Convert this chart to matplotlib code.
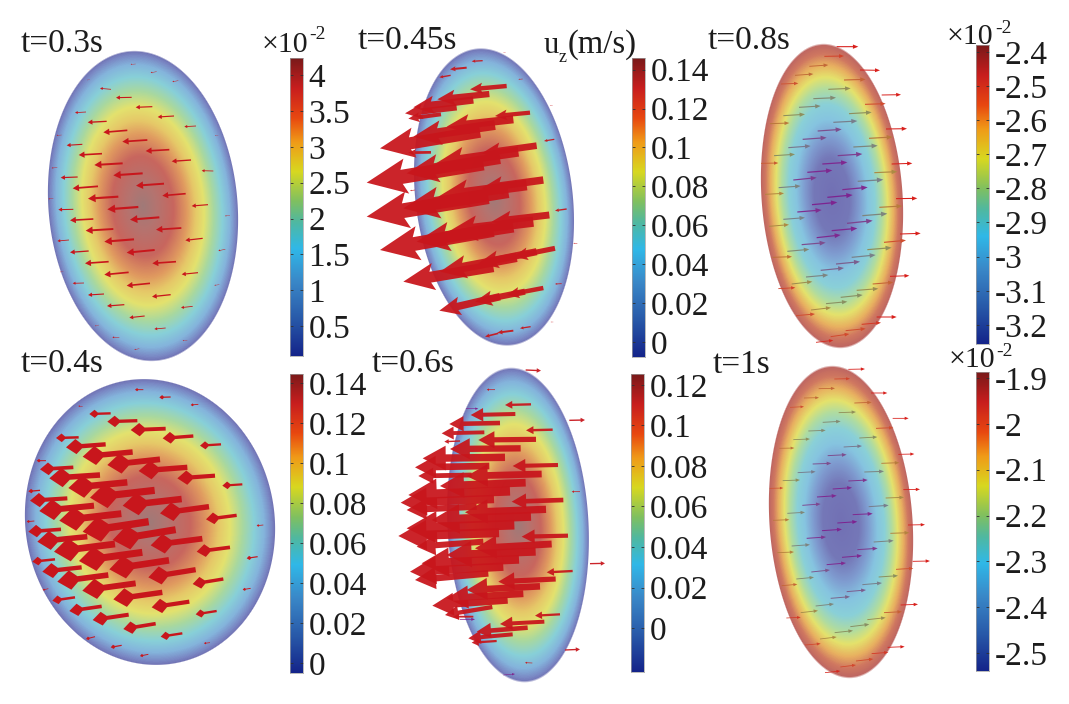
import numpy as np
import matplotlib
matplotlib.use('Agg')
import matplotlib.pyplot as plt
from matplotlib.colors import LinearSegmentedColormap

plt.rcParams['font.family'] = ['Liberation Serif', 'DejaVu Serif']

W, H = 1069, 704
TEXT = '#1c1c1c'
RED = '#c8161c'

#colour bar scale, navy up to dark red
bar_stops = [(0, '#14248a'), (.12, '#2858a8'), (.25, '#3a88c8'), (.36, '#30b8e8'),
             (.45, '#50b8a0'), (.52, '#80c060'), (.62, '#d8d820'), (.72, '#f09a18'),
             (.80, '#e84810'), (.90, '#c81e1e'), (1, '#7a1a1a')]
#surface colours against normalised radius, hot middle and cold middle
hot_stops = [(0, '#a07a78'), (.14, '#b47470'), (.32, '#c8665e'), (.46, '#e09a60'),
             (.55, '#e6c868'), (.64, '#e3e26e'), (.74, '#a8d8a0'), (.83, '#88d0d8'),
             (.91, '#84b4dc'), (.97, '#7a88c4'), (1, '#7070b2')]
cold_stops = [(0, '#7270b4'), (.25, '#7578b8'), (.38, '#7f9cd0'), (.5, '#86c4e0'),
              (.6, '#8ad0d8'), (.7, '#b0dca0'), (.78, '#e4e26c'), (.86, '#e8b060'),
              (.93, '#d07860'), (1, '#bc6462')]
#arrow colour when the arrow sits behind the cold surface
arrow_stops = [(0, '#7c2090'), (.35, '#802c90'), (.55, '#78808c'), (.7, '#8a9060'),
               (.8, '#b08a40'), (.9, '#d05030'), (1, '#d8201c')]

bar_cmap = LinearSegmentedColormap.from_list('bar', bar_stops)
hot_cmap = LinearSegmentedColormap.from_list('hot_surface', hot_stops)
cold_cmap = LinearSegmentedColormap.from_list('cold_surface', cold_stops)
arrow_cmap = LinearSegmentedColormap.from_list('arrow', arrow_stops)

#arrows are (x, y, x, y) on a grid three times finer than pixels, from each block corner
arrows_03 = [
    (392,193,407,192), (452,218,470,215), (517,245,535,242), (262,240,270,239), (300,265,333,268),
    (348,293,395,292), (407,322,457,320), (473,351,522,348), (553,380,588,378), (225,338,258,336),
    (263,367,320,364), (310,397,382,391), (367,425,442,420), (437,453,508,449), (515,484,573,480),
    (605,512,640,513), (170,406,185,405), (200,436,247,433), (236,465,306,461), (283,495,368,490),
    (340,526,428,520), (408,557,492,551), (487,587,557,581), (575,618,624,614), (155,504,172,503),
    (182,533,233,531), (218,565,294,559), (264,596,355,590), (322,628,415,621), (390,659,478,652),
    (468,689,544,684), (556,721,608,715), (645,407,655,406), (145,597,160,595), (175,629,220,628),
    (210,661,280,657), (257,692,340,687), (313,725,402,718), (380,758,464,750), (457,790,528,785),
    (545,823,594,818), (675,648,690,646), (172,723,207,720), (210,757,266,753), (255,790,326,785),
    (313,824,386,817), (380,857,450,850), (456,890,512,884), (543,923,578,919), (655,752,676,748),
    (180,816,190,815), (218,850,252,849), (264,885,312,882), (321,918,373,914), (388,953,434,948),
    (463,987,497,984), (643,856,658,854), (285,978,297,975), (337,1012,358,1012), (403,1049,418,1046),
    (548,1022,562,1021),
]
arrows_045 = [
    (430,158,437,158), (475,238,488,237), (570,317,578,316), (552,423,583,418), (585,632,620,627),
    (640,730,652,730), (585,852,605,851), (572,966,580,966), (150,572,165,570),
    (335,184,368,182), (270,208,320,203), (238,232,272,226),
    (145,356,243,343), (135,340,290,322), (160,322,340,300), (232,298,388,282), (330,268,440,258),
    (145,458,213,457), (60,445,360,395), (160,410,405,375), (260,380,460,358), (405,348,510,338),
    (20,548,370,490), (140,520,420,475), (228,490,475,455), (365,460,530,437),
    (20,650,385,590), (130,625,445,575), (235,590,500,555), (365,565,550,540),
    (60,750,400,690), (170,725,460,680), (265,695,520,665), (395,665,568,645),
    (130,845,400,800), (240,815,470,772), (355,790,530,755), (460,770,585,745),
    (238,932,420,890), (345,905,495,875), (440,885,550,864),
    (375,1010,415,1000), (412,998,460,992), (480,985,512,980),
]
arrows_08 = [
    (410,140,475,140), (373,169,432,168), (328,199,385,195), (285,226,340,222), (243,252,295,250),
    (480,210,540,211), (432,240,497,238), (385,268,452,265), (340,296,408,293), (297,322,362,318),
    (250,347,315,343), (210,371,268,369), (545,285,603,284), (495,313,557,311), (447,341,515,337),
    (400,367,472,363), (353,393,425,388), (308,418,380,413), (265,443,332,438), (222,467,285,463),
    (183,490,235,489), (558,387,621,386), (507,415,578,411), (460,441,533,437), (413,467,487,462),
    (367,492,442,487), (322,517,397,511), (280,540,350,533), (236,563,302,558), (195,583,252,580),
    (575,492,637,490), (523,518,592,515), (473,544,550,539), (427,569,503,562), (382,592,458,585),
    (336,614,412,607), (292,636,365,630), (250,658,315,653), (207,679,267,674), (588,596,652,595),
    (538,622,607,618), (487,647,562,641), (441,670,518,662), (395,692,472,685), (350,713,422,705),
    (305,734,377,728), (262,754,328,748), (218,772,276,770), (600,702,662,700), (552,727,618,721),
    (502,749,575,743), (455,772,527,765), (408,792,480,785), (362,811,432,804), (318,831,385,825),
    (275,852,337,845), (235,866,286,863), (570,829,628,827), (518,852,580,847), (470,871,535,866),
    (422,892,488,885), (378,911,442,905), (333,930,393,923), (288,947,345,942), (530,951,590,951),
    (485,973,543,968), (437,992,497,986), (392,1010,448,1002), (348,1027,400,1021),
]
arrows_04 = [
    (405,119,430,119), (478,142,512,141), (572,165,595,163), (235,168,248,170), (110,332,138,332),
    (85,424,120,421), (80,515,103,513), (770,527,790,525), (740,625,773,620), (128,720,145,716),
    (728,719,752,715), (258,867,285,860), (332,892,365,886), (420,918,445,913), (612,880,630,878),
    (600,287,663,283), (488,265,580,258), (392,240,497,236), (322,215,412,212), (268,192,332,190),
    (532,385,645,377), (416,363,562,352), (322,345,480,328), (248,320,398,306), (198,292,317,283),
    (168,264,236,262), (667,407,727,403), (480,490,627,470), (368,467,545,447), (270,443,464,421),
    (205,414,382,397), (148,385,300,375), (120,358,220,352), (618,508,710,496), (452,586,607,566),
    (338,570,527,539), (248,545,446,515), (178,512,364,491), (118,483,282,467), (90,452,202,445),
    (590,605,690,592), (445,682,587,659), (328,658,507,631), (237,633,427,607), (162,605,345,582),
    (112,575,262,560), (85,545,183,538), (578,702,670,687), (455,772,568,755), (340,748,487,727),
    (247,722,407,700), (172,695,325,675), (127,665,245,652), (97,635,165,628), (587,793,650,783),
    (482,860,547,850), (370,837,467,821), (278,810,386,794), (208,783,305,769), (157,752,225,742),
]
arrows_06 = [
    (543,62,497,60), (675,210,628,211), (735,640,690,641), (660,898,615,900), (380,119,405,119),
    (635,425,660,425), (495,938,517,939), (435,165,513,163), (332,195,466,192), (268,222,420,219),
    (245,250,373,247), (498,241,578,239), (355,270,528,268), (253,275,300,273), (270,297,482,295),
    (188,325,435,322), (165,352,388,348), (458,348,594,345), (175,378,335,375), (320,378,545,372),
    (240,408,497,398), (145,435,450,423), (122,458,402,447), (455,455,610,450), (140,480,350,470),
    (315,487,558,478), (215,510,513,499), (140,535,463,524), (115,558,417,548), (485,560,624,557),
    (170,590,370,575), (345,595,575,582), (260,615,527,605), (185,640,477,628), (150,665,430,650),
    (165,690,385,670), (560,667,638,663), (415,695,587,687), (320,720,540,709), (260,745,490,731),
    (217,767,443,751), (255,795,397,771), (280,800,340,800), (525,797,600,793), (420,822,553,815),
    (350,845,503,833), (325,865,458,853), (335,878,410,873),
]
arrows_06_purple = [(318,176,355,176), (430,975,465,972), (300,808,345,808)]
arrows_1 = [
    (445,58,495,57), (403,87,450,86), (356,116,405,115), (312,144,357,143), (270,172,312,170),
    (513,129,562,129), (463,159,515,157), (416,188,468,186), (368,217,422,214), (325,243,377,241),
    (280,269,330,267), (238,295,283,294), (578,205,626,205), (528,235,580,233), (478,264,532,261),
    (431,291,486,288), (383,317,440,314), (338,342,394,340), (293,368,347,365), (248,392,300,390),
    (209,415,250,414), (595,313,643,312), (544,340,598,338), (493,366,552,364), (445,393,503,390),
    (398,417,456,413), (351,441,410,437), (307,466,362,462), (262,490,315,487), (219,511,268,509),
    (610,419,660,418), (557,444,612,442), (506,470,566,466), (458,494,518,491), (412,519,472,515),
    (366,542,426,538), (320,565,378,561), (275,588,330,584), (232,608,282,606), (624,525,675,524),
    (571,550,628,548), (521,576,581,572), (472,599,533,595), (426,622,486,617), (380,644,438,639),
    (334,666,390,660), (289,687,342,682), (245,707,292,703), (638,634,690,633), (588,658,640,655),
    (536,681,594,677), (487,704,546,699), (440,725,498,720), (392,745,450,740), (347,768,402,762),
    (302,788,354,782), (259,804,302,802), (602,765,654,763), (552,788,606,785), (502,809,557,803),
    (451,830,508,823), (404,848,459,842), (360,867,410,861), (315,885,362,881), (563,892,614,890),
    (515,911,565,907), (468,933,520,927), (421,951,468,945), (375,968,421,963),
]

ticks_03 = [4, 3.5, 3, 2.5, 2, 1.5, 1, 0.5]
labels_03 = ['4', '3.5', '3', '2.5', '2', '1.5', '1', '0.5']
ticks_045 = [.14, .12, .1, .08, .06, .04, .02, 0]
labels_045 = ['0.14', '0.12', '0.1', '0.08', '0.06', '0.04', '0.02', '0']
ticks_08 = [-2.4, -2.5, -2.6, -2.7, -2.8, -2.9, -3, -3.1, -3.2]
labels_08 = ['-2.4', '-2.5', '-2.6', '-2.7', '-2.8', '-2.9', '-3', '-3.1', '-3.2']
ticks_06 = [.12, .1, .08, .06, .04, .02, 0]
labels_06 = ['0.12', '0.1', '0.08', '0.06', '0.04', '0.02', '0']
ticks_1 = [-1.9, -2, -2.1, -2.2, -2.3, -2.4, -2.5]
labels_1 = ['-1.9', '-2', '-2.1', '-2.2', '-2.3', '-2.4', '-2.5']


fig = plt.figure(figsize=(W / 100, H / 100), dpi=100)
ax = fig.add_axes([0, 0, 1, 1])


#draws one tilted ellipse with its colour field
def drawSurface(cx, cy, a, b, tilt, cmap):
    x = np.arange(cx - b - 4, cx + b + 4)
    y = np.arange(cy - b - 4, cy + b + 4)
    gx, gy = np.meshgrid(x + .5, y + .5)
    r = radius(gx, gy, cx, cy, a, b, tilt)
    #soft edge about one pixel wide
    alpha = np.clip((1 - r) * a, 0, 1)
    ax.imshow(np.clip(r, 0, 1), cmap=cmap, vmin=0, vmax=1, alpha=alpha, aspect='auto',
              extent=(x[0], x[-1] + 1, y[-1] + 1, y[0]), interpolation='nearest', zorder=1)


#normalised elliptical radius, top of the ellipse leans left by tilt degrees
def radius(px, py, cx, cy, a, b, tilt):
    t = np.radians(tilt)
    dx, dy = px - cx, py - cy
    across = dx * np.cos(t) - dy * np.sin(t)
    along = dx * np.sin(t) + dy * np.cos(t)
    return np.sqrt((across / a) ** 2 + (along / b) ** 2)


#draws arrows from the list, head and shaft sizes scale with the length
def drawArrows(rows, ox, oy, shaft, head_w, head_l, overhang=0, shape=None, color=RED, alpha=1.0, tip_first=True):
    for x0, y0, x1, y1 in rows:
        x0, y0, x1, y1 = ox + x0 / 3, oy + y0 / 3, ox + x1 / 3, oy + y1 / 3
        if tip_first:
            x0, y0, x1, y1 = x1, y1, x0, y0
        length = np.hypot(x1 - x0, y1 - y0)
        c = color
        if shape is not None:
            c = arrow_cmap(min(radius((x0 + x1) / 2, (y0 + y1) / 2, *shape), 1.0))
        ax.arrow(x0, y0, x1 - x0, y1 - y0, width=shaft * length, head_width=head_w * length,
                 head_length=head_l * length, length_includes_head=True, overhang=overhang,
                 facecolor=c, edgecolor='none', alpha=alpha, zorder=2)


#draws a colour bar with its own value axis, box is left, top, right, bottom in pixels
def drawBar(box, vmin, vmax, ticks, labels):
    left, top, right, bottom = box
    cax = fig.add_axes([left / W, 1 - bottom / H, (right - left) / W, (bottom - top) / H])
    grad = np.linspace(1, 0, 256).reshape(-1, 1)
    cax.imshow(grad, cmap=bar_cmap, aspect='auto', extent=(0, 1, vmin, vmax))
    cax.set_xticks([])
    cax.set_yticks(ticks)
    cax.set_yticklabels(labels, fontsize=24, color=TEXT)
    cax.yaxis.tick_right()
    cax.tick_params(axis='y', direction='in', length=2.5, width=.6, color='#303030',
                    pad=4, left=True, right=True)
    for s in cax.spines.values():
        s.set_linewidth(.5)
        s.set_color('#a0a0a0')
    return cax


def label(x, y, s, size=24):
    ax.text(x, y, s, fontsize=size, color=TEXT, ha='left', va='baseline', zorder=5)


#the six surfaces
shape_03 = (143, 206, 95, 156, 5)
shape_045 = (494, 197, 79, 150, 7)
shape_08 = (832, 196, 71, 153, 4)
shape_04 = (150, 522, 125, 144, 10)
shape_06 = (518, 525, 71, 158, 3)
shape_1 = (841, 522, 72, 157, 4)

drawSurface(*shape_03, hot_cmap)
drawSurface(*shape_045, hot_cmap)
drawSurface(*shape_08, cold_cmap)
drawSurface(*shape_04, hot_cmap)
drawSurface(*shape_06, hot_cmap)
drawSurface(*shape_1, cold_cmap)

drawArrows(arrows_03, 0, 0, .07, .27, .25)
drawArrows(arrows_045, 360, 0, .12, .3, .34, overhang=.12, alpha=.94)
drawArrows(arrows_08, 700, 0, .05, .2, .25, shape=shape_08, tip_first=False)
drawArrows(arrows_04, 0, 350, .11, .38, .25, overhang=-.6)
drawArrows(arrows_06, 360, 350, .09, .3, .28, alpha=.94)
drawArrows(arrows_06_purple, 360, 350, .05, .2, .25, color='#80208c', tip_first=False)
drawArrows(arrows_1, 700, 350, .05, .2, .25, shape=shape_1, tip_first=False)

ax.set_xlim(0, W)
ax.set_ylim(H, 0)
ax.axis('off')

#colour bars
drawBar((290, 58, 303, 356), .083, 4.24, ticks_03, labels_03)
drawBar((632, 58, 645, 357), -.0077, .146, ticks_045, labels_045)
drawBar((976, 45, 989, 344), -3.256, -2.38, ticks_08, labels_08)
drawBar((290, 374, 303, 673), -.005, .1445, ticks_045, labels_045)
drawBar((631, 374, 644, 672), -.0217, .1254, ticks_06, labels_06)
drawBar((976, 372, 989, 671), -2.539, -1.887, ticks_1, labels_1)

#times
label(21, 52, 't=0.3s')
label(358, 49, 't=0.45s')
label(708, 49, 't=0.8s')
label(21, 372, 't=0.4s')
label(372, 372, 't=0.6s')
label(713, 373, 't=1s')

#scale factors above the bars
label(262, 52, '×10', 21.5)
label(309, 39, '-2', 14)
label(947, 44, '×10', 21.5)
label(995, 33, '-2', 14)
label(949, 367, '×10', 21.5)
label(996, 356, '-2', 14)

#unit above the second bar
label(544, 53, 'u', 22)
label(559, 62, 'z', 13)
label(568, 53, '(m/s)', 23.5)

fig.savefig('out.png', dpi=100)
